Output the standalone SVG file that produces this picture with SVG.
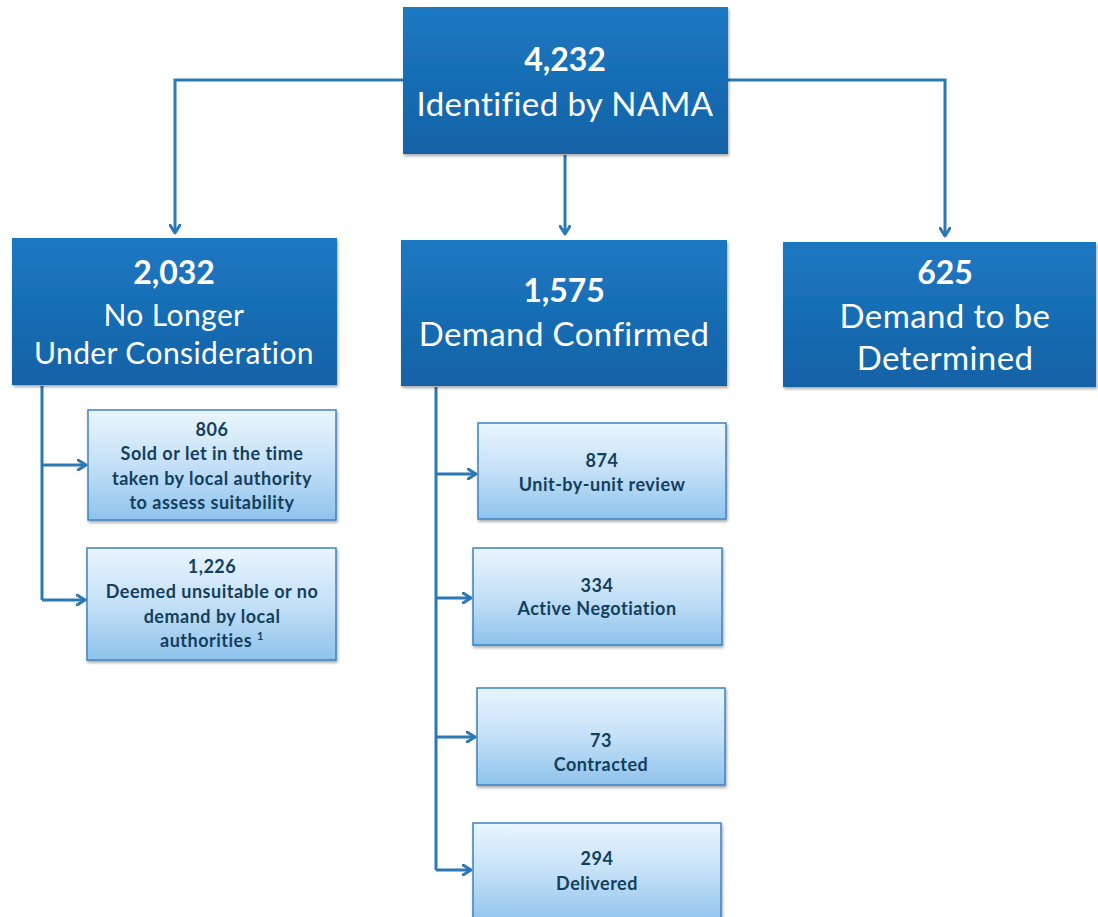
<svg xmlns="http://www.w3.org/2000/svg" width="1098" height="917" viewBox="0 0 1098 917">
<defs>
<linearGradient id="dark" x1="0" y1="0" x2="0" y2="1">
<stop offset="0" stop-color="#1c78c2"/>
<stop offset="1" stop-color="#1562a6"/>
</linearGradient>
<linearGradient id="light" x1="0" y1="0" x2="0" y2="1">
<stop offset="0" stop-color="#eaf5fd"/>
<stop offset="0.5" stop-color="#c4e0f7"/>
<stop offset="1" stop-color="#8ec3ec"/>
</linearGradient>
<filter id="sh" x="-5%" y="-5%" width="112%" height="115%">
<feDropShadow dx="1" dy="2" stdDeviation="1.5" flood-color="#000" flood-opacity="0.35"/>
</filter>
<marker id="arr" markerWidth="12" markerHeight="12" refX="9" refY="6" orient="auto" markerUnits="userSpaceOnUse">
<path d="M1,1 L9,6 L1,11" fill="none" stroke="#2a78b4" stroke-width="3" stroke-linecap="round" stroke-linejoin="round"/>
</marker>
</defs>
<style>
.dk{fill:url(#dark);filter:url(#sh)}
.lt{fill:url(#light);stroke:#3d82c0;stroke-width:1.5;filter:url(#sh)}
.wn{font-family:Lato,"Open Sans",sans-serif;font-weight:bold;fill:#fff;text-anchor:middle}
.wt{font-family:Lato,"Open Sans",sans-serif;fill:#fff;text-anchor:middle;letter-spacing:0.4px}
.bt{font-family:Lato,"Open Sans",sans-serif;font-weight:bold;fill:#133f5c;text-anchor:middle;font-size:18px;letter-spacing:0.5px}
.cn{fill:none;stroke:#2a78b4;stroke-width:3}
</style>
<rect width="1098" height="917" fill="#fff"/>
<g id="connectors">
<path class="cn" d="M403,80 H175 V233" marker-end="url(#arr)"/>
<path class="cn" d="M728,80 H945 V236" marker-end="url(#arr)"/>
<path class="cn" d="M565,155 V234" marker-end="url(#arr)"/>
<path class="cn" d="M42,386 V600"/>
<path class="cn" d="M42,465 H86" marker-end="url(#arr)"/>
<path class="cn" d="M42,600 H85" marker-end="url(#arr)"/>
<path class="cn" d="M436,387 V870"/>
<path class="cn" d="M436,474 H476" marker-end="url(#arr)"/>
<path class="cn" d="M436,598 H471" marker-end="url(#arr)"/>
<path class="cn" d="M436,737 H475" marker-end="url(#arr)"/>
<path class="cn" d="M436,870 H471" marker-end="url(#arr)"/>
</g>
<g id="n4232">
<rect class="dk" x="403" y="7" width="325" height="147"/>
<text class="wn" x="565" y="71" font-size="32">4,232</text>
<text class="wt" x="565" y="116" font-size="33">Identified by NAMA</text>
</g>
<g id="n2032">
<rect class="dk" x="12" y="238" width="325" height="147"/>
<text class="wn" x="174" y="284" font-size="32">2,032</text>
<text class="wt" x="174" y="326" font-size="30">No Longer</text>
<text class="wt" x="174" y="364" font-size="30">Under Consideration</text>
</g>
<g id="n1575">
<rect class="dk" x="401" y="240" width="326" height="146"/>
<text class="wn" x="564" y="302" font-size="32">1,575</text>
<text class="wt" x="564" y="346" font-size="33">Demand Confirmed</text>
</g>
<g id="n625">
<rect class="dk" x="783" y="242" width="313" height="145"/>
<text class="wn" x="945" y="284" font-size="32">625</text>
<text class="wt" x="945" y="328" font-size="33">Demand to be</text>
<text class="wt" x="945" y="370" font-size="33">Determined</text>
</g>
<g id="n806">
<rect class="lt" x="88" y="410" width="248" height="110"/>
<text class="bt" x="212" y="436">806</text>
<text class="bt" x="212" y="460">Sold or let in  the time</text>
<text class="bt" x="212" y="485">taken by local authority</text>
<text class="bt" x="212" y="509">to assess suitability</text>
</g>
<g id="n1226">
<rect class="lt" x="87" y="548" width="249" height="112"/>
<text class="bt" x="212" y="573">1,226</text>
<text class="bt" x="212" y="598">Deemed unsuitable or no</text>
<text class="bt" x="212" y="623">demand  by local</text>
<text class="bt" x="212" y="647">authorities <tspan font-size="11" dy="-7">1</tspan></text>
</g>
<g id="n874">
<rect class="lt" x="478" y="423" width="248" height="96"/>
<text class="bt" x="602" y="467">874</text>
<text class="bt" x="602" y="491">Unit-by-unit review</text>
</g>
<g id="n334">
<rect class="lt" x="473" y="548" width="249" height="97"/>
<text class="bt" x="597" y="592">334</text>
<text class="bt" x="597" y="615">Active Negotiation</text>
</g>
<g id="n73">
<rect class="lt" x="477" y="688" width="248" height="97"/>
<text class="bt" x="601" y="747">73</text>
<text class="bt" x="601" y="771">Contracted</text>
</g>
<g id="n294">
<rect class="lt" x="473" y="823" width="248" height="100"/>
<text class="bt" x="597" y="865">294</text>
<text class="bt" x="597" y="890">Delivered</text>
</g>
</svg>
